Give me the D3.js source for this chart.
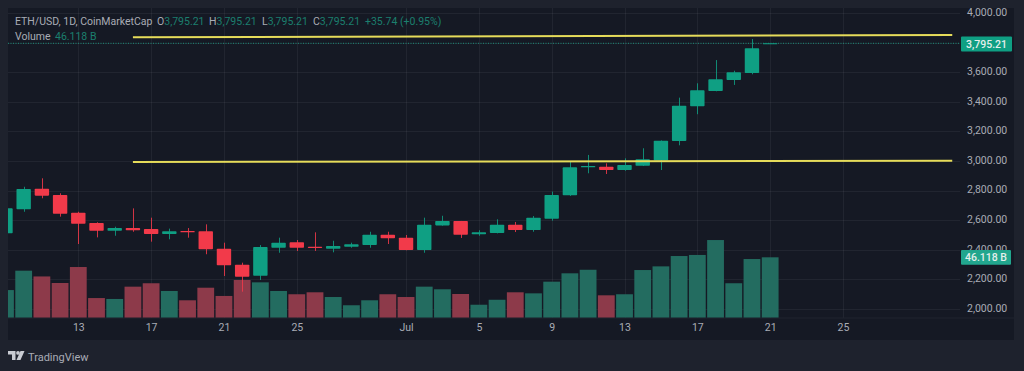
<!DOCTYPE html>
<html>
<head>
<meta charset="utf-8">
<script src="https://cdn.jsdelivr.net/npm/d3@7"></script>
<style>
    html, body { margin: 0; padding: 0; background: #1e222d; overflow: hidden; }
    svg { display: block; font-family: Roboto, sans-serif; }
    .grid line { stroke: #ffffff; stroke-opacity: 0.055; }
    .axis text { fill: #a9acb5; font-size: 10.5px; font-family: Roboto, sans-serif; }
    .axis path, .axis line { display: none; }
</style>
</head>
<body>
<div id="chart"></div>
<script>
const days = [
    "2025-06-09", "2025-06-10", "2025-06-11", "2025-06-12", "2025-06-13", "2025-06-14", "2025-06-15", "2025-06-16",
    "2025-06-17", "2025-06-18", "2025-06-19", "2025-06-20", "2025-06-21", "2025-06-22", "2025-06-23", "2025-06-24",
    "2025-06-25", "2025-06-26", "2025-06-27", "2025-06-28", "2025-06-29", "2025-06-30", "2025-07-01", "2025-07-02",
    "2025-07-03", "2025-07-04", "2025-07-05", "2025-07-06", "2025-07-07", "2025-07-08", "2025-07-09", "2025-07-10",
    "2025-07-11", "2025-07-12", "2025-07-13", "2025-07-14", "2025-07-15", "2025-07-16", "2025-07-17", "2025-07-18",
    "2025-07-19", "2025-07-20", "2025-07-21"
];
const opens = [2511, 2674, 2813, 2770, 2651, 2581, 2529, 2547, 2541, 2507, 2527, 2525, 2407, 2299, 2225, 2414, 2451, 2421, 2407,
    2421, 2432, 2502, 2482, 2399, 2565, 2595, 2505, 2514, 2570, 2534, 2610, 2768, 2957, 2961, 2939, 2968, 3003, 3135, 3370,
    3473, 3547, 3595, 3795.21];
const highs = [2680, 2826, 2883, 2782, 2657, 2586, 2556, 2680, 2617, 2543, 2547, 2572, 2448, 2313, 2432, 2482, 2466, 2518, 2461,
    2448, 2522, 2522, 2500, 2617, 2630, 2595, 2532, 2606, 2588, 2628, 2793, 2995, 3041, 2984, 3018, 3086, 3139, 3428, 3525,
    3682, 3610, 3824, 3795.21];
const lows = [2511, 2657, 2748, 2624, 2439, 2484, 2495, 2522, 2455, 2471, 2482, 2370, 2223, 2117, 2196, 2380, 2392, 2392, 2383,
    2414, 2414, 2439, 2397, 2380, 2563, 2480, 2495, 2511, 2520, 2522, 2597, 2764, 2917, 2912, 2934, 2966, 2939, 3106, 3316,
    3471, 3514, 3586, 3795.21];
const closes = [2680, 2811, 2766, 2644, 2576, 2529, 2547, 2532, 2507, 2525, 2518, 2403, 2295, 2218, 2419, 2448, 2414, 2412, 2426,
    2437, 2502, 2478, 2399, 2570, 2595, 2502, 2518, 2570, 2534, 2617, 2770, 2957, 2966, 2939, 2973, 3011, 3137, 3374, 3478,
    3552, 3599, 3762, 3795.21];
// billions
const volumes = [21.1, 35.9, 31.5, 26.5, 38.7, 15, 14.3, 23.7, 26.3, 20.4, 13.3, 22.9, 16.6, 28.8, 27, 20.4, 17.9, 19.4, 15.8,
    9.5, 13.3, 17.9, 15.8, 23.7, 21.7, 18.1, 9.9, 13.7, 19.4, 18.6, 27.5, 33.9, 36.6, 17.1, 17.9, 36.4, 39.2, 47.1, 47.9,
    59.3, 26.3, 44.8, 46.118];

const priceTicks = [2000, 2200, 2400, 2600, 2800, 3000, 3200, 3400, 3600, 4000];
const gridPrices = [2000, 2200, 2400, 2600, 2800, 3000, 3200, 3400, 3600, 3800, 4000];
const timeTicks = ["2025-06-13", "2025-06-17", "2025-06-21", "2025-06-25", "2025-07-01", "2025-07-05", "2025-07-09", "2025-07-13", "2025-07-17", "2025-07-21", "2025-07-25"];
const timeLabels = ["13", "17", "21", "25", "Jul", "5", "9", "13", "17", "21", "25"];

// the two hand drawn yellow lines: [start day, start price, end day, end price]
const drawnLines = [
    ["2025-06-16", 3836, "2025-07-31", 3851],
    ["2025-06-16", 2993, "2025-07-31", 3002]
];

const lastPrice = 3795.21;
const lastVolume = 46.118;

const UP = "#0f9f83", DOWN = "#f23a4a";
const VOL_UP = "#236c60", VOL_DOWN = "#8d3a4a";
const TEAL_TEXT = "#1b7f6e";

const width = 1024, height = 371;
const pane = {left: 8, top: 8, right: 1014, bottom: 340, plotRight: 960, volBase: 317.7};

const parseDay = d3.utcParse("%Y-%m-%d");

const svg = d3.select("#chart").append("svg")
    .attr("width", width)
    .attr("height", height);

// scale
const x = d3.scaleUtc()
    .domain([parseDay("2025-06-13"), parseDay("2025-07-25")])
    .range([78.3, 843]);

const y = d3.scaleLinear()
    .domain([2000, 4000])
    .range([309, 13]);

const yVol = d3.scaleLinear()
    .domain([0, lastVolume])
    .range([pane.volBase, 257.3]);

const defs = svg.append("defs");
defs.append("clipPath").attr("id", "plotClip").append("rect")
    .attr("x", pane.left).attr("y", pane.top)
    .attr("width", pane.plotRight - pane.left).attr("height", pane.volBase - pane.top);
defs.append("clipPath").attr("id", "paneClip").append("rect")
    .attr("x", pane.left).attr("y", pane.top)
    .attr("width", pane.right - pane.left).attr("height", pane.bottom - pane.top);

// pane
svg.append("rect")
    .attr("x", pane.left).attr("y", pane.top)
    .attr("width", pane.right - pane.left).attr("height", pane.bottom - pane.top)
    .attr("fill", "#151924");

// grid
const grid = svg.append("g").attr("class", "grid").attr("clip-path", "url(#plotClip)");
grid.selectAll(".hgrid").data(gridPrices).enter().append("line")
    .attr("class", "hgrid")
    .attr("x1", pane.left).attr("x2", pane.plotRight)
    .attr("y1", d => Math.round(y(d)) + 0.5).attr("y2", d => Math.round(y(d)) + 0.5);
grid.selectAll(".vgrid").data(timeTicks).enter().append("line")
    .attr("class", "vgrid")
    .attr("y1", pane.top).attr("y2", pane.volBase)
    .attr("x1", d => Math.round(x(parseDay(d))) + 0.5).attr("x2", d => Math.round(x(parseDay(d))) + 0.5);

svg.append("line")
    .attr("x1", pane.left).attr("x2", pane.right)
    .attr("y1", pane.volBase + 0.3).attr("y2", pane.volBase + 0.3)
    .attr("stroke", "#ffffff").attr("stroke-opacity", 0.05);

const candles = days.map((d, i) => ({
    date: parseDay(d), open: opens[i], high: highs[i], low: lows[i], close: closes[i], volume: volumes[i]
}));
const isUp = d => d.close >= d.open;

const plot = svg.append("g").attr("clip-path", "url(#plotClip)");

// volume
const barWidth = 16.8;
plot.selectAll(".vol").data(candles).enter().append("rect")
    .attr("class", "vol")
    .attr("x", d => x(d.date) - barWidth / 2)
    .attr("width", barWidth)
    .attr("y", d => yVol(d.volume))
    .attr("height", d => yVol(0) - yVol(d.volume))
    .attr("fill", d => isUp(d) ? VOL_UP : VOL_DOWN);

// last price line
plot.append("line")
    .attr("x1", pane.left).attr("x2", pane.plotRight)
    .attr("y1", y(lastPrice)).attr("y2", y(lastPrice))
    .attr("stroke", "#1c8f7c").attr("stroke-width", 1).attr("stroke-dasharray", "1 1.5");

// candles
const bodyWidth = 14.4;
plot.selectAll(".wick").data(candles).enter().append("line")
    .attr("class", "wick")
    .attr("x1", d => Math.round(x(d.date)) + 0.5).attr("x2", d => Math.round(x(d.date)) + 0.5)
    .attr("y1", d => y(d.high)).attr("y2", d => y(d.low))
    .attr("stroke", d => isUp(d) ? UP : DOWN)
    .attr("stroke-opacity", 0.85);
plot.selectAll(".body").data(candles).enter().append("rect")
    .attr("class", "body")
    .attr("x", d => x(d.date) - bodyWidth / 2)
    .attr("width", bodyWidth)
    .attr("y", d => y(Math.max(d.open, d.close)))
    .attr("height", d => Math.max(1, Math.abs(y(d.open) - y(d.close))))
    .attr("rx", 0.8)
    .attr("fill", d => isUp(d) ? UP : DOWN);

// yellow lines
svg.selectAll(".drawn").data(drawnLines).enter().append("line")
    .attr("class", "drawn")
    .attr("x1", d => x(parseDay(d[0]))).attr("y1", d => y(d[1]))
    .attr("x2", d => x(parseDay(d[2]))).attr("y2", d => y(d[3]))
    .attr("stroke", "#e6dc5a").attr("stroke-width", 2);

// axis
const yAxis = d3.axisRight(y)
    .tickValues(priceTicks)
    .tickSize(0)
    .tickPadding(0)
    .tickFormat(d3.format(",.2f"));
svg.append("g")
    .attr("clip-path", "url(#paneClip)")
    .append("g")
    .attr("class", "axis")
    .attr("transform", "translate(967,-1)")
    .call(yAxis);

const xAxis = d3.axisBottom(x)
    .tickValues(timeTicks.map(parseDay))
    .tickSize(0)
    .tickPadding(0)
    .tickFormat((d, i) => timeLabels[i]);
svg.append("g")
    .attr("class", "axis")
    .attr("transform", "translate(0,324)")
    .call(xAxis);

// axis labels for last values
function lastLabel(yPos, w, text, fill) {
    svg.append("rect")
        .attr("x", 961).attr("y", yPos - 7.4)
        .attr("width", w).attr("height", 14.8)
        .attr("rx", 1)
        .attr("fill", fill);
    svg.append("text")
        .attr("x", 961 + w / 2).attr("y", yPos + 0.2)
        .attr("dy", "0.35em")
        .attr("text-anchor", "middle")
        .attr("fill", "#e4efec")
        .attr("font-size", "10.5px")
        .attr("font-weight", 500)
        .text(text);
}
lastLabel(y(lastPrice) + 0.7, 51, d3.format(",.2f")(lastPrice), "#0f9f83");
lastLabel(yVol(lastVolume), 50, lastVolume.toFixed(3) + " B", "#22a68e");

// legend
const legend = svg.append("g").attr("font-size", "10.5px");
function legendText(xPos, yPos, parts) {
    const t = legend.append("text").attr("x", xPos).attr("y", yPos);
    parts.forEach(p => t.append("tspan").attr("fill", p[1]).text(p[0]));
}
const LABEL = "#a9acb5";
const priceText = d3.format(",.2f")(lastPrice);
legendText(15, 24.5, [["ETH/USD, 1D, CoinMarketCap", LABEL]]);
legendText(157, 24.5, [["O", LABEL], [priceText, TEAL_TEXT]]);
legendText(209, 24.5, [["H", LABEL], [priceText, TEAL_TEXT]]);
legendText(262, 24.5, [["L", LABEL], [priceText, TEAL_TEXT]]);
legendText(313, 24.5, [["C", LABEL], [priceText, TEAL_TEXT]]);
legendText(365, 24.5, [["+35.74 (+0.95%)", TEAL_TEXT]]);
legendText(15, 39.5, [["Volume", LABEL]]);
legendText(55, 39.5, [[lastVolume.toFixed(3) + " B", TEAL_TEXT]]);

// logo
const logo = svg.append("g").attr("transform", "translate(8,351)").attr("fill", "#c9ccd3");
logo.append("path").attr("d", "M0 0H7.5V9H4V3.5H0Z");
logo.append("circle").attr("cx", 10).attr("cy", 1.9).attr("r", 1.9);
logo.append("path").attr("d", "M12.5 0H16.5L12.5 9H8.5Z");
svg.append("text")
    .attr("x", 28).attr("y", 360.5)
    .attr("font-size", "11px")
    .attr("fill", "#a9acb5")
    .text("TradingView");
</script>
</body>
</html>
